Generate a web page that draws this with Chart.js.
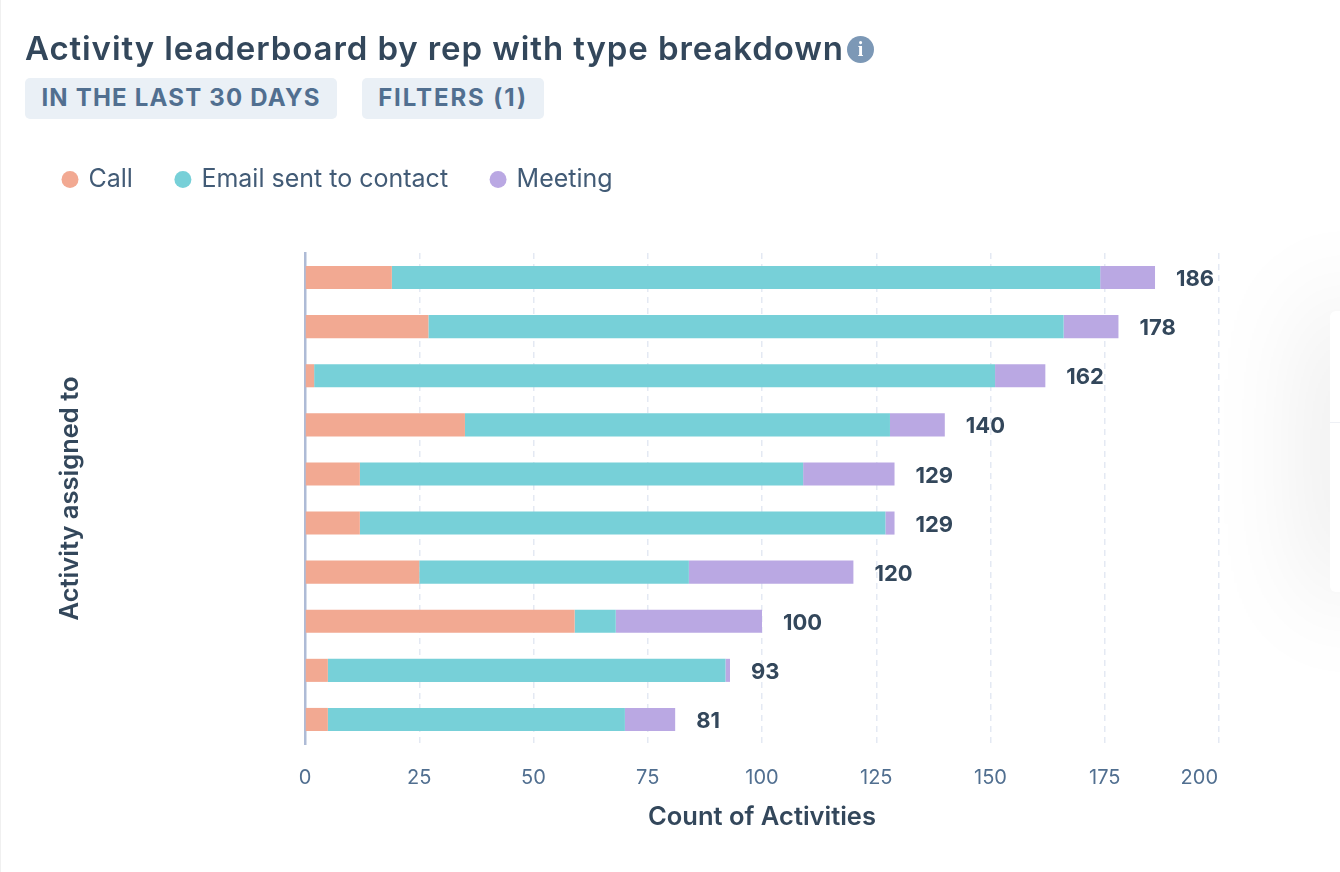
<!DOCTYPE html>
<html>
<head>
<meta charset="utf-8">
<style>
html, body { margin: 0; padding: 0; background: #fff; }
body { width: 1340px; height: 872px; overflow: hidden; position: relative; font-family: Inter, sans-serif; }
#chart-wrap { position: absolute; left: 0; top: 0; width: 1340px; height: 872px; }
h1 { position: absolute; left: 25px; top: 28px; margin: 0; font-size: 33px; line-height: 40px; font-weight: 600; color: #33475b; white-space: nowrap; letter-spacing: 0.9px; }
.info { position: absolute; left: 847px; top: 36px; width: 27px; height: 27px; border-radius: 50%; background: #7c98b6; color: #fff; font: 700 20px/27px "Liberation Serif", serif; text-align: center; }
.chip { position: absolute; top: 78px; height: 41px; line-height: 40px; background: #eaf0f6; border-radius: 5px; color: #516f90; font-size: 24px; font-weight: 700; text-align: center; letter-spacing: 1.2px; white-space: nowrap; }
#chip-date { left: 25px; width: 312px; }
#chip-filter { left: 362px; width: 182px; letter-spacing: 1.9px; }
#side-panel { position: absolute; left: 1330px; top: 311px; width: 40px; height: 281px; background: #fff; border-radius: 6px; box-shadow: 0 0 110px rgba(0,0,0,0.17); }
#side-line { position: absolute; left: 1330px; top: 422px; width: 10px; height: 1px; background: #eef0f5; }
#left-edge { position: absolute; left: 0; top: 0; width: 1px; height: 872px; background: #f0f0f0; }
</style>
</head>
<body>
<div id="side-panel"></div>
<div id="side-line"></div>
<div id="left-edge"></div>
<div id="chart-wrap"><canvas id="rep-chart"></canvas></div>
<h1>Activity leaderboard by rep with type breakdown</h1>
<div class="info">i</div>
<div class="chip" id="chip-date">IN THE LAST 30 DAYS</div>
<div class="chip" id="chip-filter">FILTERS (1)</div>
<script src="https://cdn.jsdelivr.net/npm/chart.js@4"></script>
<script>
// rep names are blanked out in the source picture
const reps = ['', '', '', '', '', '', '', '', '', ''];
const callCounts = [19, 27, 2, 35, 12, 12, 25, 59, 5, 5];
const emailCounts = [155, 139, 149, 93, 97, 115, 59, 9, 87, 65];
const meetingCounts = [12, 12, 11, 12, 20, 2, 36, 32, 1, 11];
const totals = [186, 178, 162, 140, 129, 129, 120, 100, 93, 81];
const xTicks = [0, 25, 50, 75, 100, 125, 150, 175, 200];

const fontFamily = 'Inter, sans-serif';

// total at the end of each stacked bar
const totalLabels = {
	id: 'totalLabels',
	afterDatasetsDraw(chart) {
		const ctx = chart.ctx;
		const last = chart.getDatasetMeta(chart.data.datasets.length - 1);
		ctx.save();
		ctx.font = '700 22px ' + fontFamily;
		ctx.fillStyle = '#33475b';
		ctx.textAlign = 'left';
		ctx.textBaseline = 'middle';
		last.data.forEach((bar, idx) => {
			ctx.fillText(totals[idx], bar.x + 21, bar.y + 2);
		});
		ctx.restore();
	},
};

// leaves room between the legend and the plot
const legendGap = {
	id: 'legendGap',
	beforeInit(chart) {
		const fit = chart.legend.fit;
		chart.legend.fit = function () {
			fit.call(this);
			this.height += 51;
		};
	},
};

new Chart(document.getElementById('rep-chart'), {
	type: 'bar',
	data: {
		labels: reps,
		datasets: [
			{ label: 'Call', data: callCounts, backgroundColor: '#f2a992' },
			{ label: 'Email sent to contact', data: emailCounts, backgroundColor: '#77d0d8' },
			{ label: 'Meeting', data: meetingCounts, backgroundColor: '#baa8e3' },
		],
	},
	options: {
		indexAxis: 'y',
		responsive: true,
		maintainAspectRatio: false,
		animation: false,
		barPercentage: 0.47,
		categoryPercentage: 1,
		layout: { padding: { left: 20, right: 121, top: 123, bottom: 28 } },
		plugins: {
			tooltip: { enabled: false },
			legend: {
				position: 'top',
				align: 'start',
				labels: {
					usePointStyle: true,
					pointStyle: 'circle',
					boxHeight: 12,
					boxWidth: 12,
					padding: 44,
					color: '#425b76',
					font: { family: fontFamily, size: 25 },
				},
			},
		},
		scales: {
			x: {
				stacked: true,
				min: 0,
				max: 200,
				afterBuildTicks(scale) {
					scale.ticks = xTicks.map(v => ({ value: v }));
				},
				afterFit(scale) {
					scale.height = 100;
				},
				grid: {
					color: '#e4e9f3',
					lineWidth: 1.5,
					drawTicks: false,
				},
				border: { display: false, dash: [6, 5] },
				ticks: {
					padding: 22,
					maxRotation: 0,
					autoSkip: false,
					color: '#516f90',
					font: { family: fontFamily, size: 20 },
					// the last label sits inside the plot edge, so pad it to pull it left
					callback: v => (v === 200 ? v + '       ' : String(v)),
				},
				title: {
					display: true,
					text: 'Count of Activities',
					color: '#33475b',
					padding: { top: 0, bottom: 11 },
					font: { family: fontFamily, size: 25.5, weight: '600' },
				},
			},
			y: {
				stacked: true,
				afterFit(scale) {
					scale.width = 285;
				},
				grid: { display: false },
				border: { color: '#aebbd6', width: 2.5 },
				ticks: { display: false },
				title: {
					display: true,
					text: 'Activity assigned to',
					color: '#33475b',
					padding: { top: 35, bottom: 0 },
					font: { family: fontFamily, size: 25.5, weight: '600' },
				},
			},
		},
	},
	plugins: [totalLabels, legendGap],
});
</script>
</body>
</html>
